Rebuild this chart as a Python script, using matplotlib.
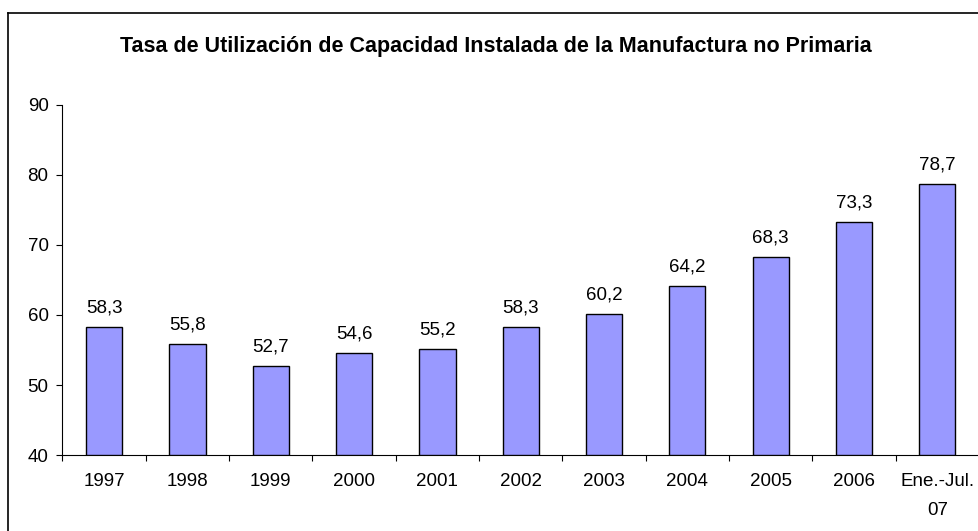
import matplotlib
matplotlib.use("Agg")
import matplotlib.pyplot as plt
from matplotlib.lines import Line2D

# ------------------------------
# Data
# ------------------------------
categories = ["1997", "1998", "1999", "2000", "2001", "2002",
              "2003", "2004", "2005", "2006", "Ene.-Jul.\n07"]
values = [58.3, 55.8, 52.7, 54.6, 55.2, 58.3, 60.2, 64.2, 68.3, 73.3, 78.7]
value_labels = ["58,3", "55,8", "52,7", "54,6", "55,2", "58,3",
                "60,2", "64,2", "68,3", "73,3", "78,7"]
y_ticks = [40, 50, 60, 70, 80, 90]

plt.rcParams["font.family"] = ["Liberation Sans", "DejaVu Sans"]

fig = plt.figure(figsize=(9.79, 5.31), dpi=100)
ax = fig.add_axes([0.0638, 0.1431, 0.9362, 0.6592])

x = list(range(len(categories)))
ax.bar(x, [v - 40 for v in values], bottom=40, width=0.435,
       color="#9999FF", edgecolor="black", linewidth=1.0, zorder=3)

for xi, v, lab in zip(x, values, value_labels):
    ax.annotate(lab, (xi, v), xytext=(0, 7.5), textcoords="offset points",
                ha="center", va="bottom", fontsize=13.5, color="black")

ax.set_xlim(-0.5, len(categories) - 0.5)
ax.set_ylim(40, 90)
ax.set_yticks(y_ticks)
ax.set_yticklabels([str(t) for t in y_ticks], fontsize=13.5)

ax.set_xticks(x)
ax.set_xticklabels(categories, fontsize=13.5, linespacing=1.95)
ax.set_xticks([i - 0.5 for i in range(len(categories) + 1)], minor=True)
ax.tick_params(axis="x", which="major", length=0, pad=13)
ax.tick_params(axis="x", which="minor", length=4, width=0.8, direction="out")
ax.tick_params(axis="y", length=4, width=0.8, direction="out", pad=6)

ax.spines["top"].set_visible(False)
ax.spines["right"].set_visible(False)
ax.spines["left"].set_linewidth(0.8)
ax.spines["bottom"].set_linewidth(0.8)

# title
fig.text(0.507, 0.912, "Tasa de Utilización de Capacidad Instalada de la Manufactura no Primaria",
         ha="center", va="center", fontsize=15.5, fontweight="bold")

# outer chart-area border (left and top only, rest cropped)
bx = 8 / 979
by = 1 - 13 / 531
fig.add_artist(Line2D([bx, bx], [0, by], transform=fig.transFigure,
                      color="black", linewidth=1.2))
fig.add_artist(Line2D([bx, 1], [by, by], transform=fig.transFigure,
                      color="black", linewidth=1.2))

fig.savefig("out.png", dpi=100)
